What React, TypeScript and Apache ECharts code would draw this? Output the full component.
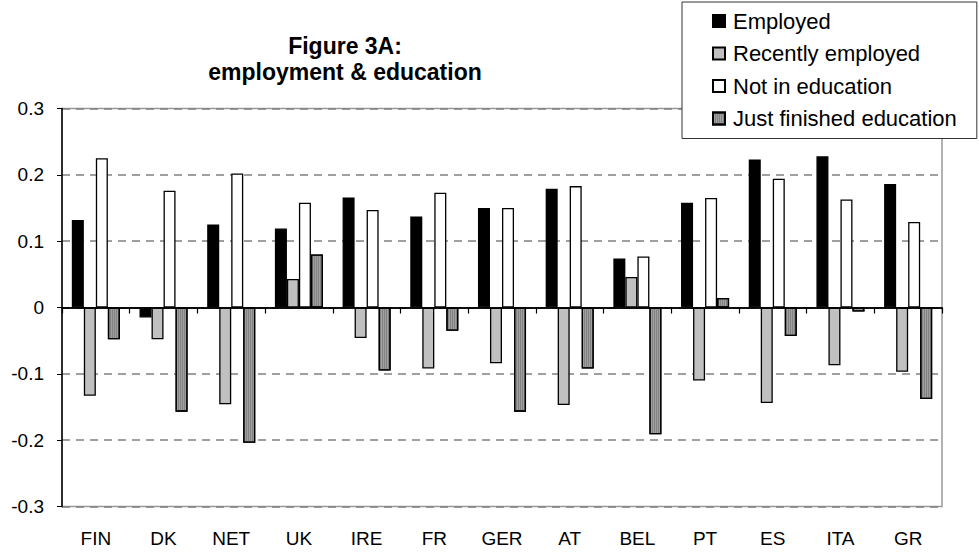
import React, { useEffect, useRef } from "react";
import * as echarts from "echarts";

const categories = ["FIN", "DK", "NET", "UK", "IRE", "FR", "GER", "AT", "BEL", "PT", "ES", "ITA", "GR"];
const employed = [0.132, -0.015, 0.125, 0.119, 0.166, 0.137, 0.15, 0.179, 0.074, 0.158, 0.223, 0.228, 0.186];
const recentlyEmployed = [-0.133, -0.048, -0.146, 0.043, -0.046, -0.092, -0.084, -0.147, 0.046, -0.11, -0.144, -0.087, -0.097];
const notInEducation = [0.225, 0.176, 0.202, 0.158, 0.147, 0.173, 0.15, 0.183, 0.077, 0.165, 0.194, 0.163, 0.129];
const justFinished = [-0.048, -0.157, -0.204, 0.08, -0.095, -0.035, -0.157, -0.092, -0.191, 0.0145, -0.043, -0.006, -0.138];

const seriesNames = ["Employed", "Recently employed", "Not in education", "Just finished education"];
const seriesData = [employed, recentlyEmployed, notInEducation, justFinished];
const seriesColors = ["#000000", "#C0C0C0", "#FFFFFF", "#A0A0A0"];

const FONT = "'Liberation Sans', Arial, sans-serif";

const GRID_TOP = 108.5;
const GRID_BOTTOM = 47.5;
const CHART_H = 554;

export default function App() {
  const ref = useRef<HTMLDivElement>(null);
  useEffect(() => {
    if (!ref.current) return;
    const chart = echarts.init(ref.current, undefined, { renderer: "svg" });
    const gridH = CHART_H - GRID_TOP - GRID_BOTTOM;
    chart.setOption({
      animation: false,
      backgroundColor: "#ffffff",
      title: {
        text: "Figure 3A:\nemployment & education",
        left: 340,
        top: 28,
        textAlign: "center",
        textStyle: { fontFamily: FONT, fontSize: 23, fontWeight: "bold", color: "#000", lineHeight: 26 },
      },
      legend: {
        orient: "vertical",
        left: 682,
        top: 2,
        padding: [8, 20, 9, 30],
        itemGap: 10.5,
        itemWidth: 12,
        itemHeight: 12,
        icon: "rect",
        borderColor: "#333",
        borderWidth: 1,
        backgroundColor: "#fff",
        textStyle: { fontFamily: FONT, fontSize: 22, color: "#000", lineHeight: 22, padding: [0, 0, 0, 3] },
        data: seriesNames,
      },
      grid: {
        left: 62,
        right: 37,
        top: GRID_TOP,
        bottom: GRID_BOTTOM,
        show: true,
        borderColor: "#999",
        borderWidth: 1.5,
        backgroundColor: "transparent",
      },
      xAxis: [
        {
          type: "category",
          data: categories,
          position: "bottom",
          axisLine: { show: false, onZero: false },
          axisTick: { show: false },
          axisLabel: { fontFamily: FONT, fontSize: 19, color: "#000", margin: 22 },
        },
        {
          type: "category",
          data: categories,
          position: "top",
          offset: -gridH / 2,
          axisLine: { show: true, onZero: false, lineStyle: { color: "#000", width: 1.5 } },
          axisTick: { show: true, inside: true, length: 6, lineStyle: { color: "#000", width: 1.2 } },
          axisLabel: { show: false },
          z: 5,
        },
      ],
      yAxis: {
        type: "value",
        min: -0.3,
        max: 0.3,
        interval: 0.1,
        axisLine: { show: true, lineStyle: { color: "#000", width: 1.5 } },
        axisTick: { show: true, length: 5, lineStyle: { color: "#000" } },
        axisLabel: {
          fontFamily: FONT,
          fontSize: 19,
          color: "#000",
          margin: 18,
          formatter: (v: number) => String(Math.round(v * 10) / 10),
        },
        splitLine: { show: true, lineStyle: { color: "#808080", width: 1.5, type: [8, 6] } },
      },
      series: seriesNames.map((name, i) => ({
        name,
        type: "bar",
        xAxisIndex: 0,
        data: seriesData[i],
        barGap: "0%",
        barCategoryGap: "29%",
        z: 3,
        ...(i === 0
          ? {
              markLine: {
                silent: true,
                symbol: "none",
                label: { show: false },
                lineStyle: { color: "#000", width: 1.5, type: "solid" },
                data: [{ yAxis: 0 }],
                z: 6,
              },
            }
          : {}),
        itemStyle: {
          color: seriesColors[i],
          borderColor: "#000",
          borderWidth: 1.3,
          ...(i === 3
            ? {
                decal: {
                  symbol: "rect",
                  symbolSize: 1,
                  dashArrayX: [1, 1],
                  dashArrayY: [1, 0],
                  color: "rgba(100,100,100,0.5)",
                },
              }
            : {}),
        },
      })),
    });
    return () => chart.dispose();
  }, []);
  return <div ref={ref} style={{ width: 979, height: 554, position: "absolute", left: 0, top: 0 }} />;
}
